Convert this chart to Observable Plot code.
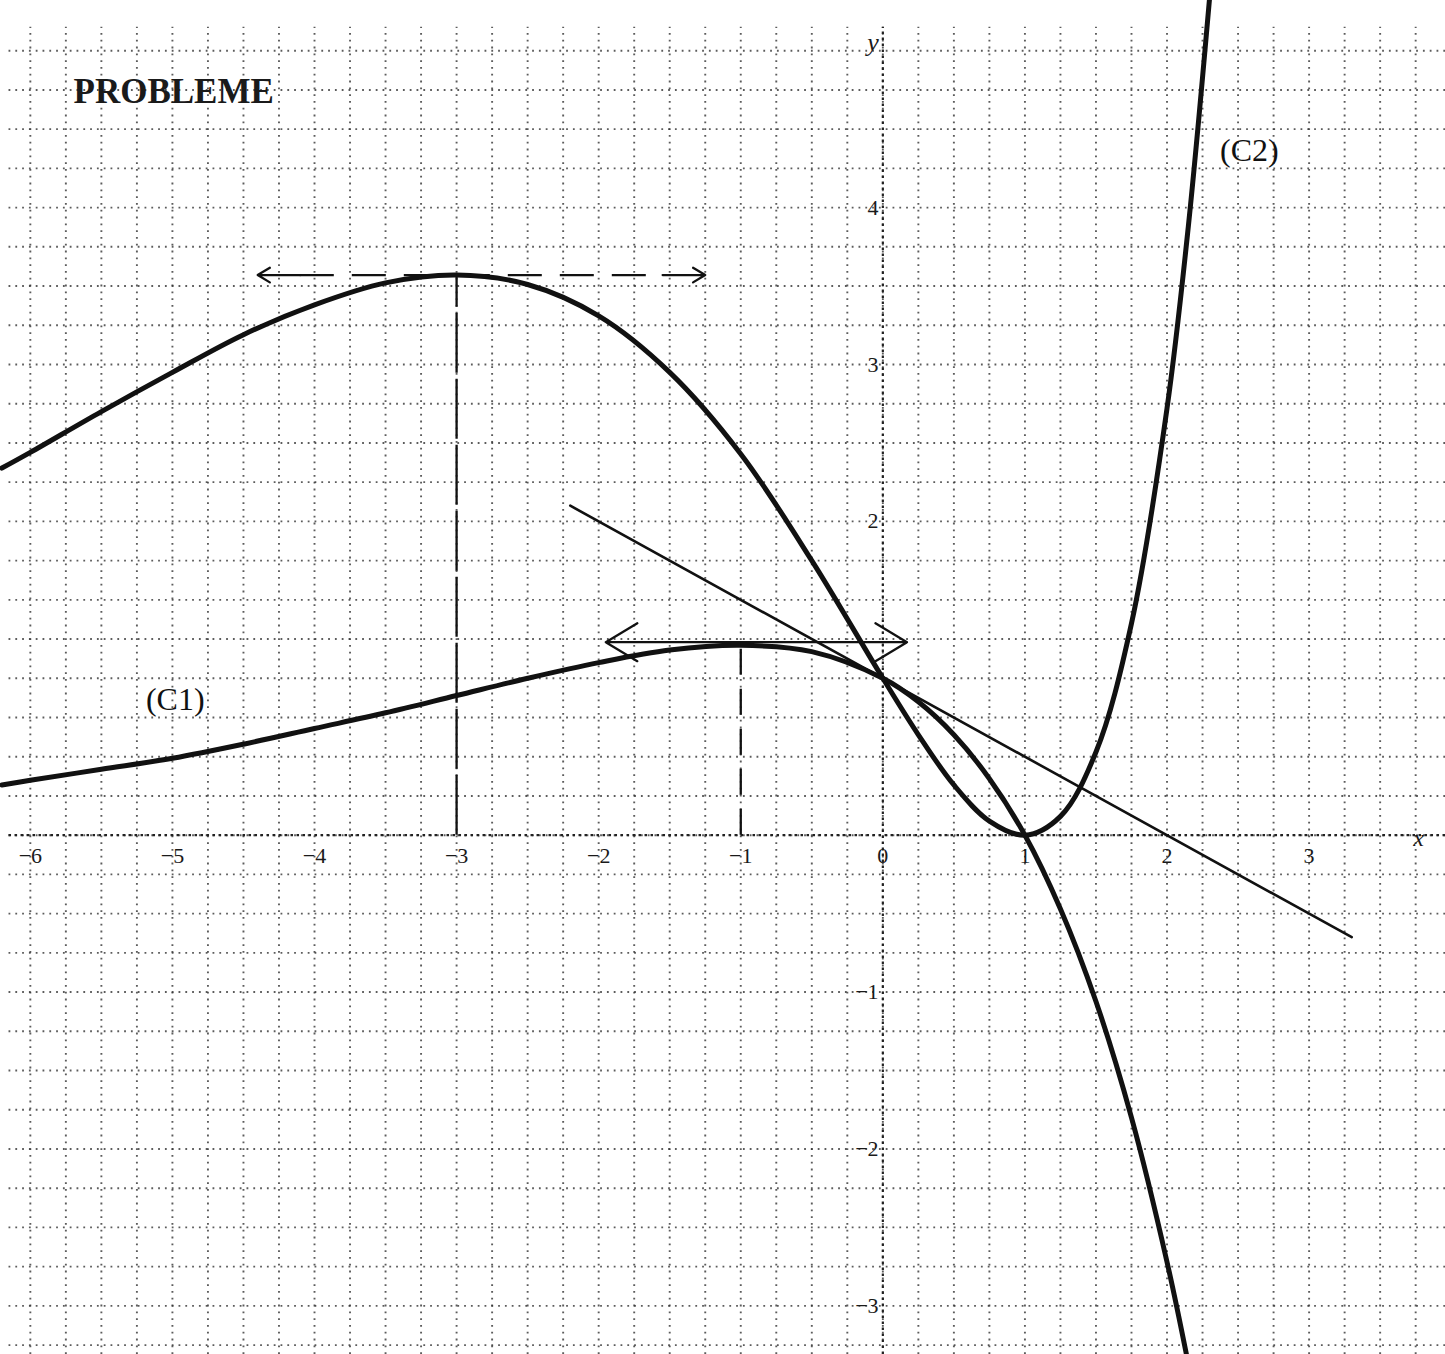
<!DOCTYPE html>
<html>
<head>
<meta charset="utf-8">
<script src="https://cdn.jsdelivr.net/npm/d3@7"></script>
<script src="https://cdn.jsdelivr.net/npm/@observablehq/plot@0.6"></script>
<style>
  html, body { margin: 0; padding: 0; background: #ffffff; }
  #chart { width: 1445px; height: 1354px; }
</style>
</head>
<body>
<div id="chart"></div>
<script>
// ---- Data ----
const c1X = [-6.2, -6, -5.5, -5, -4.5, -4, -3.5, -3, -2.5, -2, -1.5, -1, -0.5, 0, 0.25, 0.5, 0.75, 1, 1.25, 1.5, 1.75, 2, 2.15];
const c1Y = [0.32, 0.35, 0.42, 0.49, 0.58, 0.68, 0.78, 0.89, 1.00, 1.10, 1.18, 1.21, 1.17, 1.00, 0.85, 0.64, 0.36, 0, -0.47, -1.06, -1.80, -2.72, -3.37];

const c2X = [-6.2, -6, -5.5, -5, -4.5, -4, -3.5, -3, -2.5, -2, -1.5, -1, -0.5, 0, 0.25, 0.5, 0.75, 1, 1.25, 1.5, 1.75, 2, 2.15, 2.3];
const c2Y = [2.34, 2.44, 2.70, 2.95, 3.19, 3.38, 3.52, 3.57, 3.51, 3.31, 2.95, 2.43, 1.75, 1.00, 0.64, 0.32, 0.09, 0, 0.12, 0.53, 1.35, 2.72, 3.88, 5.34];

// tangent line to (C1) at x = 0
const tangentX = [-2.2, 3.3];
const tangentY = [2.10, -0.65];

// horizontal tangents at the extrema
const maxC2 = {x: -3, y: 3.57, left: -4.4, right: -1.25};
const maxC1 = {x: -1, y: 1.21, left: -1.95, right: 0.17};

// tick labels
const xTicks = [-6, -5, -4, -3, -2, -1, 0, 1, 2, 3];
const xTickLabels = ["−6", "−5", "−4", "−3", "−2", "−1", "0", "1", "2", "3"];
const yTicks = [4, 3, 2, -1, -2, -3];
const yTickLabels = ["4", "3", "2", "−1", "−2", "−3"];

const curveLabels = [
  {x: -4.98, y: 0.86, text: "(C1)"},
  {x: 2.58, y: 4.36, text: "(C2)"}
];

// ---- Build tables ----
const c1 = c1X.map((x, i) => ({x, y: c1Y[i]}));
const c2 = c2X.map((x, i) => ({x, y: c2Y[i]}));
const tangent = tangentX.map((x, i) => ({x, y: tangentY[i]}));

const xMin = -6.21, xMax = 3.96, yMin = -3.31, yMax = 5.32;
const gridXs = d3.range(-6.25, 4.0, 0.25);
const gridYs = d3.range(-3.25, 5.26, 0.25);

const gridStyle = {stroke: "#333", strokeWidth: 1.9, strokeDasharray: "1.8,5", strokeOpacity: 0.8};
const ink = "#111";
const arrowStyle = {stroke: ink, strokeWidth: 2.3, headLength: 24, headAngle: 62};

const chart = Plot.plot({
  width: 1445,
  height: 1354,
  margin: 0,
  x: {domain: [xMin, xMax], axis: null},
  y: {domain: [yMin, yMax], axis: null},
  style: {background: "#ffffff", fontFamily: "Liberation Serif"},
  marks: [
    // dotted paper grid
    Plot.ruleX(gridXs, {y1: yMin, y2: 5.15, ...gridStyle}),
    Plot.ruleY(gridYs.filter(v => v <= 5.1), {x1: -6.15, x2: xMax, ...gridStyle}),
    // axes (slightly stronger dotted)
    Plot.ruleY([0], {x1: -6.15, x2: xMax, stroke: "#222", strokeWidth: 2.2, strokeDasharray: "2.5,3.5"}),
    Plot.ruleX([0], {y1: yMin, y2: 5.15, stroke: "#222", strokeWidth: 2.2, strokeDasharray: "2.5,3.5"}),

    // tangent line
    Plot.line(tangent, {x: "x", y: "y", stroke: ink, strokeWidth: 2.6}),

    // horizontal tangent at max of C2 (dashed, double arrow)
    Plot.ruleY([maxC2.y], {x1: maxC2.left + 0.3, x2: maxC2.right - 0.3, stroke: ink, strokeWidth: 2.3, strokeDasharray: "34,18"}),
    Plot.arrow([{x1: maxC2.left + 0.3, x2: maxC2.left, y: maxC2.y}], {x1: "x1", x2: "x2", y1: "y", y2: "y", ...arrowStyle}),
    Plot.arrow([{x1: maxC2.right - 0.3, x2: maxC2.right, y: maxC2.y}], {x1: "x1", x2: "x2", y1: "y", y2: "y", ...arrowStyle}),
    Plot.ruleX([maxC2.x], {y1: 0, y2: maxC2.y, stroke: ink, strokeWidth: 2.3, strokeDasharray: "60,6"}),

    // horizontal tangent at max of C1 (solid, double arrow)
    Plot.arrow([{x1: maxC1.x, x2: maxC1.left, y: maxC1.y + 0.02}], {x1: "x1", x2: "x2", y1: "y", y2: "y", ...arrowStyle}),
    Plot.arrow([{x1: maxC1.x, x2: maxC1.right, y: maxC1.y + 0.02}], {x1: "x1", x2: "x2", y1: "y", y2: "y", ...arrowStyle}),
    Plot.ruleX([maxC1.x], {y1: 0, y2: maxC1.y, stroke: ink, strokeWidth: 2.3, strokeDasharray: "26,14"}),

    // curves
    Plot.line(c2, {x: "x", y: "y", curve: "catmull-rom", stroke: ink, strokeWidth: 5, clip: true}),
    Plot.line(c1, {x: "x", y: "y", curve: "catmull-rom", stroke: ink, strokeWidth: 5, clip: true}),

    // tick labels
    Plot.text(xTicks, {x: d => d, y: -0.13, text: (d, i) => xTickLabels[i], fontSize: 22, fill: "#1a1a1a"}),
    Plot.text(yTicks, {x: -0.03, y: d => d, text: (d, i) => yTickLabels[i], fontSize: 22, fill: "#1a1a1a", textAnchor: "end"}),
    Plot.text(["x"], {x: 3.77, y: -0.02, text: d => d, fontSize: 24, fontStyle: "italic", fill: "#1a1a1a"}),
    Plot.text(["y"], {x: -0.07, y: 5.05, text: d => d, fontSize: 26, fontStyle: "italic", fill: "#1a1a1a"}),

    // curve names
    Plot.text(curveLabels, {x: "x", y: "y", text: "text", fontSize: 32, fill: "#111"}),

    // title
    Plot.text(["PROBLEME"], {frameAnchor: "top-left", dx: 73, dy: 78, text: d => d, fontSize: 35, fontWeight: "bold", fill: "#1a1a1a", textAnchor: "start", lineAnchor: "top", fontFamily: "Liberation Serif"})
  ]
});

document.getElementById("chart").appendChild(chart);
</script>
</body>
</html>
